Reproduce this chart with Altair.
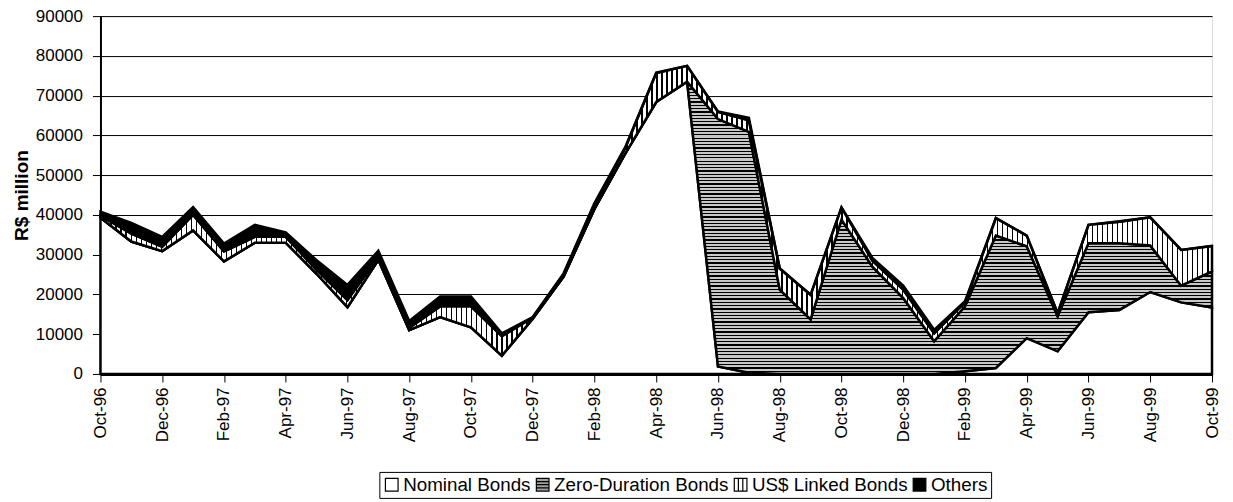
import altair as alt
import pandas as pd

months = ["Oct-96", "Nov-96", "Dec-96", "Jan-97", "Feb-97", "Mar-97", "Apr-97", "May-97",
          "Jun-97", "Jul-97", "Aug-97", "Sep-97", "Oct-97", "Nov-97", "Dec-97", "Jan-98",
          "Feb-98", "Mar-98", "Apr-98", "May-98", "Jun-98", "Jul-98", "Aug-98", "Sep-98",
          "Oct-98", "Nov-98", "Dec-98", "Jan-99", "Feb-99", "Mar-99", "Apr-99", "May-99",
          "Jun-99", "Jul-99", "Aug-99", "Sep-99", "Oct-99"]
nominal = [39300, 33300, 30900, 36100, 28300, 33000, 33000, 25200, 16800, 28700, 11000, 14300,
           11700, 4600, 13900, 24500, 41500, 55500, 68400, 73500, 1900, 300, 0, 0,
           0, 0, 0, 0, 700, 1500, 9000, 5700, 15500, 16100, 20600, 18000, 16700]
zero_duration = [0, 0, 0, 0, 0, 0, 0, 0, 0, 0, 0, 0,
                 0, 0, 0, 0, 0, 0, 0, 0, 62200, 60600, 21200, 13700,
                 38800, 27000, 19100, 8200, 16300, 33300, 23100, 8800, 17400, 16800, 11700, 4200, 9100]
usd_linked = [500, 2000, 1100, 3900, 2500, 1500, 1500, 1000, 1800, 800, 600, 2700,
              5300, 4900, 300, 600, 1200, 1400, 7300, 4000, 1800, 2900, 5300, 6200,
              3100, 1500, 2100, 2000, 1000, 4400, 2700, 800, 4600, 5400, 7100, 9000, 6400]
others = [1000, 2700, 2500, 2000, 2000, 3000, 1100, 2400, 3800, 1500, 1700, 2500,
          2500, 700, 100, 200, 300, 200, 100, 0, 100, 600, 100, 0,
          0, 700, 1000, 900, 300, 0, 0, 0, 0, 100, 0, 0, 0]
series_names = ["Nominal Bonds", "Zero-Duration Bonds", "US$ Linked Bonds", "Others"]
tick_months = months[::2]
y_ticks = list(range(0, 90001, 10000))

FONT = "Liberation Sans"
W, H = 1112, 358
YMAX = 90000

df = pd.DataFrame({"month": months, "nominal": nominal, "zero": zero_duration,
                   "usd": usd_linked, "others": others})


def stripes(n, ink, paper, frac, vertical):
    stops = []
    for i in range(n):
        a = i / n
        b = (i + frac) / n
        c = (i + 1) / n
        stops += [{"color": ink, "offset": a}, {"color": ink, "offset": b},
                  {"color": paper, "offset": b}, {"color": paper, "offset": c}]
    g = {"gradient": "linear", "stops": stops}
    if vertical:
        g.update(x1=0, y1=0, x2=1, y2=0)
    else:
        g.update(x1=0, y1=0, x2=0, y2=1)
    return g


zmax = max(a + b for a, b in zip(nominal, zero_duration))
n_h = int(round(zmax / YMAX * H / 3.3))
n_v = int(round(W / 5.0))
hfill = stripes(n_h, "#000000", "#c8c8c8", 0.38, False)
vfill = stripes(n_v, "#000000", "#ffffff", 0.3, True)

X = alt.X("month:O", sort=months, title=None,
          scale=alt.Scale(type="point", padding=0),
          axis=alt.Axis(values=tick_months, labelAngle=-90, labelFont=FONT, labelFontSize=17,
                        labelColor="black", tickColor="black", tickSize=8, tickWidth=1,
                        domainColor="black", domainWidth=3, labelPadding=5, grid=False,
                        labelOverlap=False))

base = alt.Chart(df).transform_calculate(
    b0="0",
    t1="datum.nominal",
    t2="datum.nominal + datum.zero",
    t3="datum.nominal + datum.zero + datum.usd",
    t4="datum.nominal + datum.zero + datum.usd + datum.others",
)

yscale = alt.Scale(domain=[0, YMAX], nice=False)
yaxis = alt.Axis(values=y_ticks, format="d", title="R$ million", labelFont=FONT, labelFontSize=17,
                 labelColor="black", tickColor="black", tickSize=8, labelPadding=10,
                 labelOverlap=False, tickCount=10,
                 domainColor="black", domainWidth=2, gridColor="black", gridWidth=1,
                 titleFont=FONT, titleFontSize=19, titleFontWeight="bold", titleColor="black",
                 titlePadding=4)


def Y(field):
    return alt.Y(field, scale=yscale, axis=yaxis)


stroke = dict(stroke="black", strokeWidth=2.5, strokeJoin="miter")

nom = base.mark_area(fill="white", **stroke).encode(x=X, y=Y("t1:Q"), y2="b0:Q")
zer = base.mark_area(fill=hfill, **stroke).encode(x=X, y=Y("t2:Q"), y2="t1:Q")
usd = base.mark_area(fill=vfill, **stroke).encode(x=X, y=Y("t3:Q"), y2="t2:Q")
oth = base.mark_area(fill="black", **stroke).encode(x=X, y=Y("t4:Q"), y2="t3:Q")

legend_df = pd.DataFrame({"series": series_names})
shapes = ["M-1,-1H1V1H-1Z",
          "M-1,-1H1V1H-1Z M-1,-0.5H1 M-1,0H1 M-1,0.5H1",
          "M-1,-1H1V1H-1Z M-0.35,-1V1 M0.35,-1V1",
          "M-1,-1H1V1H-1Z"]
leg = dict(title=None, orient="none", legendX=279, legendY=456, direction="horizontal",
           columns=4, strokeColor="black", padding=3, symbolSize=160,
           symbolStrokeWidth=1.2, symbolOpacity=1,
           labelFont=FONT, labelFontSize=18.8, labelColor="black", labelLimit=400,
           columnPadding=2, labelOffset=2)
legend_layer = alt.Chart(legend_df).mark_point(filled=False, opacity=0, strokeWidth=1.2).encode(
    x=alt.value(0), y=alt.value(0),
    fill=alt.Fill("series:N", scale=alt.Scale(domain=series_names,
                                              range=["white", "#a0a0a0", "white", "black"]),
                  legend=alt.Legend(**leg)),
    stroke=alt.Stroke("series:N", scale=alt.Scale(domain=series_names,
                                                  range=["black", "black", "black", "black"]),
                      legend=alt.Legend(**leg)),
    shape=alt.Shape("series:N", scale=alt.Scale(domain=series_names, range=shapes),
                    legend=alt.Legend(**leg)),
)

chart = alt.layer(nom, zer, usd, oth, legend_layer).properties(
    width=W, height=H,
    autosize=alt.AutoSizeParams(type="none"),
    padding={"left": 92.5, "top": 8, "right": 13, "bottom": 128},
    background="white",
).configure_view(stroke="#808080", strokeWidth=2).configure(font=FONT)

chart.save("out.html", embed_options={"renderer": "svg", "actions": False})
